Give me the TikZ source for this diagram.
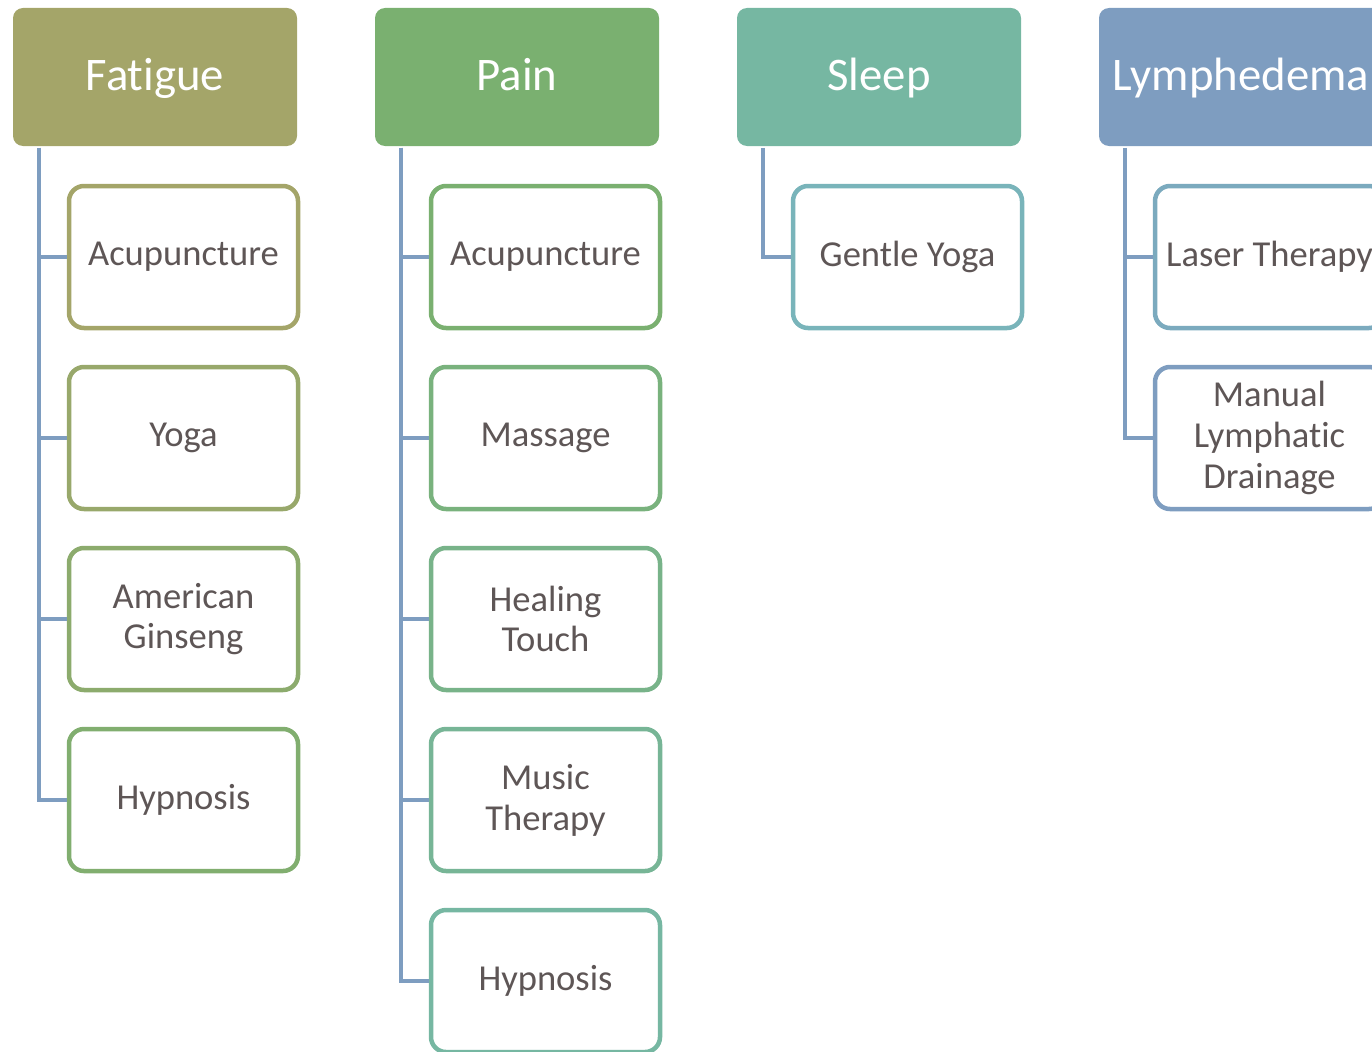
\documentclass[tikz,border=0pt]{standalone}
\usepackage{fontspec}
\setmainfont{Carlito}[Ligatures={NoCommon,NoRequired}]
\usepackage{tikz}
\usetikzlibrary{positioning}
\definecolor{TextGray}{RGB}{94,86,86}
\definecolor{LinkBlue}{RGB}{126,157,192}
\definecolor{Olive}{RGB}{164,165,105}
\definecolor{Green}{RGB}{122,176,112}
\definecolor{Teal}{RGB}{118,183,162}
\definecolor{Blue}{RGB}{126,157,192}
\definecolor{FatTwo}{RGB}{152,168,107}
\definecolor{FatThree}{RGB}{140,171,109}
\definecolor{FatFour}{RGB}{129,174,111}
\definecolor{PainTwo}{RGB}{121,178,125}
\definecolor{PainThree}{RGB}{120,179,137}
\definecolor{PainFour}{RGB}{119,181,150}
\definecolor{SleepOne}{RGB}{121,180,186}
\definecolor{LymphOne}{RGB}{123,170,190}

\tikzset{
  headbox/.style={fill=#1,draw=none,text=white,minimum width=2.84cm,minimum height=1.38cm,
    rounded corners=0.1cm,inner sep=0pt,text height=0.36cm,text depth=0.08cm,
    font=\fontsize{13.3}{16}\selectfont},
  itembox/.style={draw=#1,fill=white,line width=0.045cm,text=TextGray,minimum width=2.29cm,
    minimum height=1.42cm,rounded corners=0.15cm,inner sep=0pt,align=center,
    font=\fontsize{10.4}{11.6}\selectfont},
  link/.style={draw=LinkBlue,line width=0.045cm}
}

\begin{document}
\begin{tikzpicture}
    \useasboundingbox (0,0) rectangle (13.72,-10.51);

    % headers
    \node[headbox=Olive] (fat) at (1.55,-0.77) {Fatigue};
    \node[headbox=Green] (pain) at (5.17,-0.77) {Pain};
    \node[headbox=Teal] (sleep) at (8.79,-0.77) {Sleep};
    \node[headbox=Blue] (lymph) at (12.41,-0.77) {Lymphedema};

    % Fatigue
    \node[itembox=Olive] (fat1) at (1.835,-2.57) {Acupuncture};
    \node[itembox=FatTwo] (fat2) at (1.835,-4.38) {Yoga};
    \node[itembox=FatThree] (fat3) at (1.835,-6.19) {American\\Ginseng};
    \node[itembox=FatFour] (fat4) at (1.835,-8.00) {Hypnosis};

    % Pain
    \node[itembox=Green] (pain1) at (5.455,-2.57) {Acupuncture};
    \node[itembox=PainTwo] (pain2) at (5.455,-4.38) {Massage};
    \node[itembox=PainThree] (pain3) at (5.455,-6.19) {Healing\\Touch};
    \node[itembox=PainFour] (pain4) at (5.455,-8.00) {Music\\Therapy};
    \node[itembox=Teal] (pain5) at (5.455,-9.81) {Hypnosis};

    % Sleep
    \node[itembox=SleepOne] (sleep1) at (9.075,-2.57) {Gentle Yoga};

    % Lymphedema
    \node[itembox=LymphOne] (lymph1) at (12.695,-2.57) {Laser Therapy};
    \node[itembox=Blue] (lymph2) at (12.695,-4.38) {Manual\\Lymphatic\\Drainage};

    \coordinate (fattop) at (0.39,-1.48);
    \coordinate (paintop) at (4.01,-1.48);
    \coordinate (sleeptop) at (7.63,-1.48);
    \coordinate (lymphtop) at (11.25,-1.48);

    \draw[link] (fattop) |- (fat1.west);
    \draw[link] (fattop) |- (fat2.west);
    \draw[link] (fattop) |- (fat3.west);
    \draw[link] (fattop) |- (fat4.west);

    \draw[link] (paintop) |- (pain1.west);
    \draw[link] (paintop) |- (pain2.west);
    \draw[link] (paintop) |- (pain3.west);
    \draw[link] (paintop) |- (pain4.west);
    \draw[link] (paintop) |- (pain5.west);

    \draw[link] (sleeptop) |- (sleep1.west);

    \draw[link] (lymphtop) |- (lymph1.west);
    \draw[link] (lymphtop) |- (lymph2.west);
\end{tikzpicture}
\end{document}
